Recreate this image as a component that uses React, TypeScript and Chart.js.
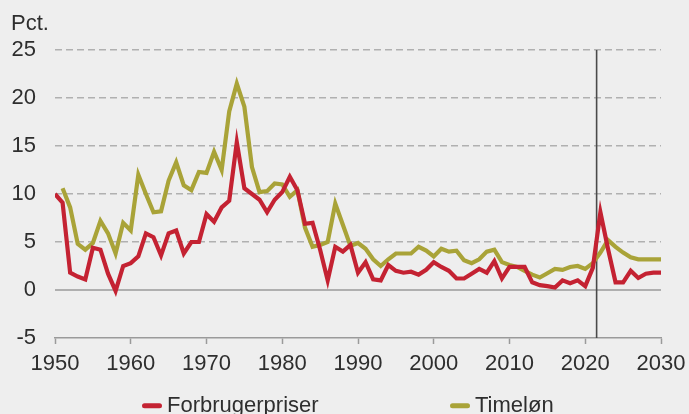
import React, { useEffect, useRef } from "react";
import { Chart, registerables } from "chart.js";

Chart.register(...registerables);

const years: number[] = [];
for (let y = 1950; y <= 2030; y++) years.push(y);

const forbrugerpriser: number[] = [
  10.0, 9.1, 1.8, 1.4, 1.1, 4.4, 4.2, 1.7, -0.1, 2.5,
  2.8, 3.5, 5.9, 5.5, 3.6, 5.9, 6.2, 3.8, 5.0, 5.0,
  7.9, 7.1, 8.6, 9.3, 15.4, 10.6, 10.0, 9.4, 8.1, 9.4,
  10.2, 11.8, 10.4, 6.9, 7.0, 4.2, 1.0, 4.5, 4.0, 4.7,
  1.8, 2.9, 1.1, 1.0, 2.6, 2.0, 1.8, 1.9, 1.6, 2.1,
  2.9, 2.4, 2.0, 1.2, 1.2, 1.7, 2.2, 1.8, 3.0, 1.2,
  2.4, 2.4, 2.4, 0.8, 0.5, 0.4, 0.25, 1.0, 0.7, 1.0,
  0.4, 2.3, 8.1, 4.3, 0.8, 0.8, 2.0, 1.25, 1.7, 1.8,
  1.8,
];

const timeloen: (number | null)[] = [
  null, 10.6, 8.6, 4.8, 4.2, 4.9, 7.2, 5.9, 3.8, 7.0,
  6.2, 12.0, 10.0, 8.1, 8.2, 11.4, 13.3, 10.9, 10.4, 12.3,
  12.2, 14.4, 12.5, 18.6, 21.5, 19.1, 12.8, 10.2, 10.3, 11.1,
  11.0, 9.7, 10.4, 6.5, 4.5, 4.7, 5.0, 9.0, 6.8, 4.6,
  4.9, 4.3, 3.2, 2.5, 3.2, 3.8, 3.8, 3.8, 4.5, 4.1,
  3.5, 4.3, 4.0, 4.1, 3.1, 2.8, 3.2, 4.0, 4.2, 2.9,
  2.6, 2.4, 2.0, 1.6, 1.3, 1.75, 2.2, 2.1, 2.4, 2.5,
  2.2, 2.8, 3.9, 5.2, 4.5, 3.9, 3.4, 3.2, 3.2, 3.2,
  3.2,
];

const xTicks: number[] = [1950, 1960, 1970, 1980, 1990, 2000, 2010, 2020, 2030];
const yTicks: number[] = [-5, 0, 5, 10, 15, 20, 25];
const forecastYear = 2021.5;
const yUnit = "Pct.";
const seriesLabels = ["Forbrugerpriser", "Timeløn"];

const RED = "#c42232";
const OLIVE = "#a9a338";
const FONT = "'Liberation Sans', Arial, sans-serif";
const TEXT = "#2e2e2e";

export default function App() {
  const ref = useRef<HTMLCanvasElement | null>(null);

  useEffect(() => {
    document.body.style.margin = "0";
    document.body.style.background = "#eeeeee";
    const canvas = ref.current;
    if (!canvas) return;

    const decor = {
      id: "decor",
      beforeDraw(chart: any) {
        const ctx = chart.ctx;
        ctx.save();
        ctx.fillStyle = "#eeeeee";
        ctx.fillRect(0, 0, chart.width, chart.height);
        ctx.restore();
      },
      afterDraw(chart: any) {
        const ctx = chart.ctx;
        ctx.save();
        ctx.font = `22px ${FONT}`;
        ctx.fillStyle = TEXT;
        ctx.textBaseline = "alphabetic";
        ctx.textAlign = "left";
        ctx.fillText(yUnit, 11, 29.5);
        const items = [
          { x: 142, color: RED, label: seriesLabels[0] },
          { x: 450, color: OLIVE, label: seriesLabels[1] },
        ];
        const yc = 405.7;
        for (const it of items) {
          ctx.strokeStyle = it.color;
          ctx.lineWidth = 5;
          ctx.lineCap = "round";
          ctx.beginPath();
          ctx.moveTo(it.x + 2.5, yc);
          ctx.lineTo(it.x + 17.5, yc);
          ctx.stroke();
          ctx.fillStyle = TEXT;
          ctx.fillText(it.label, it.x + 25, 411.7);
        }
        ctx.restore();
      },
    };

    const chart = new Chart(canvas, {
      type: "line",
      data: {
        datasets: [
          {
            label: seriesLabels[0],
            data: years.map((y, i) => ({ x: y, y: forbrugerpriser[i] })),
            borderColor: RED,
            borderWidth: 4.2,
            pointRadius: 0,
            tension: 0,
            order: 1,
          },
          {
            label: seriesLabels[1],
            data: years.map((y, i) => ({ x: y, y: timeloen[i] as any })),
            borderColor: OLIVE,
            borderWidth: 4.2,
            pointRadius: 0,
            tension: 0,
            order: 2,
          },
          {
            label: "zero",
            data: [
              { x: xTicks[0], y: 0 },
              { x: xTicks[xTicks.length - 1], y: 0 },
            ],
            borderColor: "#9a9a9a",
            borderWidth: 1.5,
            pointRadius: 0,
            order: 10,
          },
          {
            label: "forecast",
            data: [
              { x: forecastYear, y: yTicks[0] },
              { x: forecastYear, y: yTicks[yTicks.length - 1] },
            ],
            borderColor: "#4a4a4a",
            borderWidth: 1.6,
            pointRadius: 0,
            order: 5,
          },
        ],
      },
      options: {
        animation: false,
        responsive: true,
        maintainAspectRatio: false,
        spanGaps: false,
        layout: { padding: { left: 12, top: 50, right: 28, bottom: 36 } },
        plugins: {
          legend: { display: false },
          tooltip: { enabled: false },
          title: { display: false },
        },
        scales: {
          x: {
            type: "linear",
            min: xTicks[0],
            max: xTicks[xTicks.length - 1],
            afterFit: (s: any) => {
              s.height = 40;
            },
            afterBuildTicks: (s: any) => {
              s.ticks = xTicks.map((v) => ({ value: v }));
            },
            ticks: {
              stepSize: 10,
              padding: 3,
              color: TEXT,
              font: { family: FONT, size: 22, lineHeight: 1.5 },
              maxRotation: 0,
              callback: (v: any) => String(v),
            },
            grid: {
              drawOnChartArea: false,
              drawTicks: true,
              tickLength: 6,
              tickColor: "#9a9a9a",
              tickWidth: 1.5,
            },
            border: { display: true, color: "#9a9a9a", width: 1.5 },
          },
          y: {
            min: yTicks[0],
            max: yTicks[yTicks.length - 1],
            afterFit: (s: any) => {
              s.width = 43;
            },
            afterBuildTicks: (s: any) => {
              s.ticks = yTicks.map((v) => ({ value: v }));
            },
            ticks: {
              stepSize: 5,
              padding: 19,
              color: TEXT,
              font: { family: FONT, size: 22 },
            },
            grid: {
              drawTicks: false,
              lineWidth: 1.5,
              color: (c: any) =>
                c.tick && (c.tick.value === 0 || c.tick.value === -5)
                  ? "rgba(0,0,0,0)"
                  : "#b0b0b0",
            },
            border: { display: false, dash: [7, 4] },
          },
        },
      },
      plugins: [decor],
    } as any);

    return () => chart.destroy();
  }, []);

  return (
    <div style={{ width: 689, height: 414, position: "relative" }}>
      <canvas ref={ref} />
    </div>
  );
}
